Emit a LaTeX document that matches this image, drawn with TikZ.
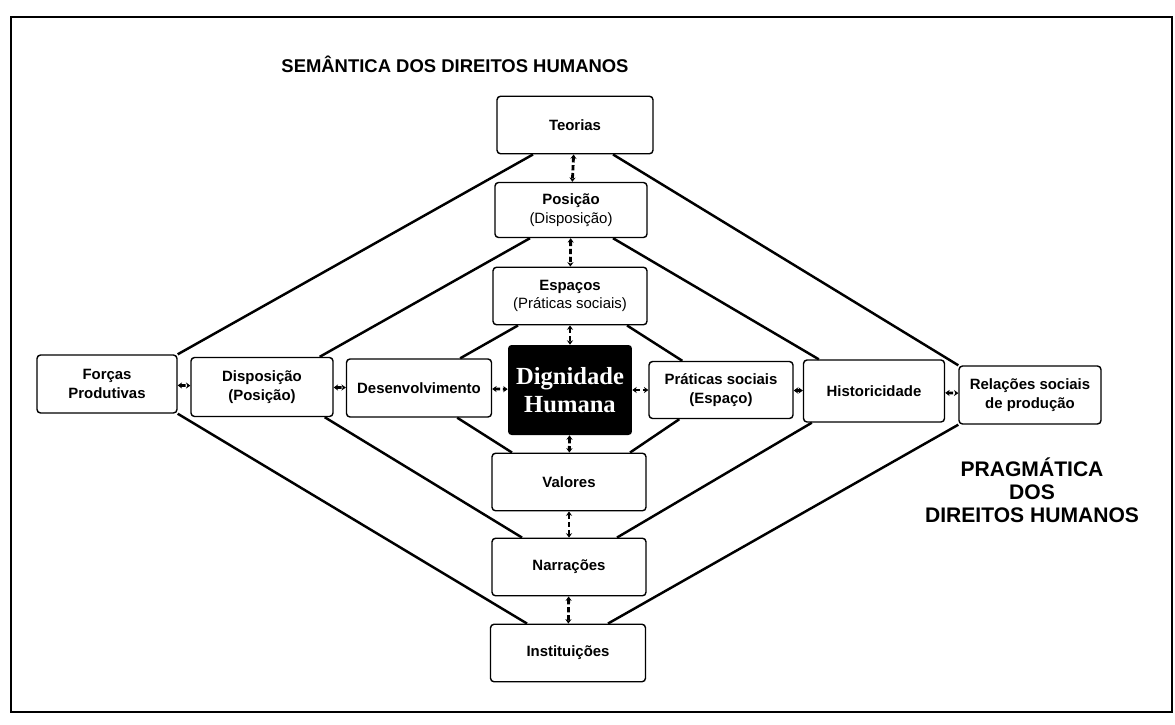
\documentclass[tikz,border=0pt]{standalone}
\usepackage{fontspec}
\setmainfont{Liberation Sans}
\newfontfamily\serifnucleo{Liberation Serif}
\usetikzlibrary{arrows.meta,calc}

\tikzset{
  caixa/.style={draw, line width=0.8pt, rounded corners=2pt, fill=white,
    align=center, inner sep=1pt, minimum width=3.08cm, minimum height=1.15cm,
    font=\fontsize{8.5}{10.5}\selectfont\bfseries},
  nucleo/.style={fill=black, rounded corners=2pt, text=white, align=center,
    minimum width=2.48cm, minimum height=1.8cm,
    font=\serifnucleo\fontsize{14}{15.5}\selectfont\bfseries},
  diag/.style={line width=1.4pt},
  elo/.style={line width=1.6pt, dash pattern=on 3pt off 1.5pt,
    {Stealth[length=2.5pt,width=3.5pt]}-{Stealth[length=2.5pt,width=3.5pt]}},
  rotulo/.style={align=center, font=\fontsize{12}{13}\selectfont\bfseries}
}

\begin{document}
\begin{tikzpicture}[x=0.02cm,y=-0.02cm]
\useasboundingbox (0,0) rectangle (1175,724);
\draw[line width=0.8pt] (11,17) rectangle (1172,712);

\node[rotulo, font=\fontsize{10.5}{13}\selectfont\bfseries] (semantica) at (455,64) {SEMÂNTICA DOS DIREITOS HUMANOS};
\node[rotulo] (pragmatica) at (1032,490) {PRAGMÁTICA\\DOS\\DIREITOS HUMANOS};

% eixo vertical
\node[caixa, minimum width=3.12cm] (teorias) at (575,125) {Teorias};
\node[caixa, minimum width=3.04cm, minimum height=1.1cm] (posicao) at (571,210) {Posição\\\mdseries(Disposição)};
\node[caixa] (espacos) at (570,296) {Espaços\\\mdseries(Práticas sociais)};
\node[nucleo] (dignidade) at (570,390) {Dignidade\\Humana};
\node[caixa] (valores) at (569,482) {Valores};
\node[caixa] (narracoes) at (569,567) {Narrações};
\node[caixa, minimum width=3.1cm] (instituicoes) at (568,653) {Instituições};

% eixo horizontal
\node[caixa, minimum width=2.8cm, minimum height=1.16cm] (forcas) at (107,384) {Forças\\Produtivas};
\node[caixa, minimum width=2.84cm, minimum height=1.18cm] (disposicao) at (262,387) {Disposição\\(Posição)};
\node[caixa, minimum width=2.9cm, minimum height=1.16cm] (desenvolvimento) at (419,388) {Desenvolvimento};
\node[caixa, minimum width=2.88cm, minimum height=1.14cm] (praticas) at (721,390) {Práticas sociais\\(Espaço)};
\node[caixa, minimum width=2.82cm, minimum height=1.24cm] (historicidade) at (874,391) {Historicidade};
\node[caixa, minimum width=2.84cm, minimum height=1.16cm] (relacoes) at (1030,395) {Relações sociais\\de produção};

% losango externo
\draw[diag] ($(teorias.south)+(-42,0)$) -- (forcas.north east);
\draw[diag] ($(teorias.south)+(38,0)$) -- (relacoes.north west);
\draw[diag] (forcas.south east) -- ($(instituicoes.north)+(-41,0)$);
\draw[diag] (relacoes.south west) -- ($(instituicoes.north)+(40,0)$);
% losango do meio
\draw[diag] ($(posicao.south)+(-41,0)$) -- ($(disposicao.north east)+(-14,0)$);
\draw[diag] ($(posicao.south)+(42,0)$) -- ($(historicidade.north west)+(16,0)$);
\draw[diag] ($(disposicao.south east)+(-9,0)$) -- ($(narracoes.north)+(-47,0)$);
\draw[diag] ($(historicidade.south west)+(9,0)$) -- ($(narracoes.north)+(48,0)$);
% losango interno
\draw[diag] ($(espacos.south)+(-52,0)$) -- ($(desenvolvimento.north east)+(-32,0)$);
\draw[diag] ($(espacos.south)+(57,0)$) -- ($(praticas.north west)+(34,0)$);
\draw[diag] ($(desenvolvimento.south east)+(-35,0)$) -- ($(valores.north)+(-57,0)$);
\draw[diag] ($(praticas.south west)+(31,0)$) -- ($(valores.north)+(61,0)$);

% ligacoes
\draw[elo] (teorias) -- (posicao);
\draw[elo] (posicao) -- (espacos);
\draw[elo] (espacos) -- (dignidade);
\draw[elo] (dignidade) -- (valores);
\draw[elo] (valores) -- (narracoes);
\draw[elo] (narracoes) -- (instituicoes);
\draw[elo] (forcas) -- (disposicao);
\draw[elo] (disposicao) -- (desenvolvimento);
\draw[elo] (desenvolvimento) -- (dignidade);
\draw[elo] (dignidade) -- (praticas);
\draw[elo] (praticas) -- (historicidade);
\draw[elo] (historicidade) -- (relacoes);
\end{tikzpicture}
\end{document}
